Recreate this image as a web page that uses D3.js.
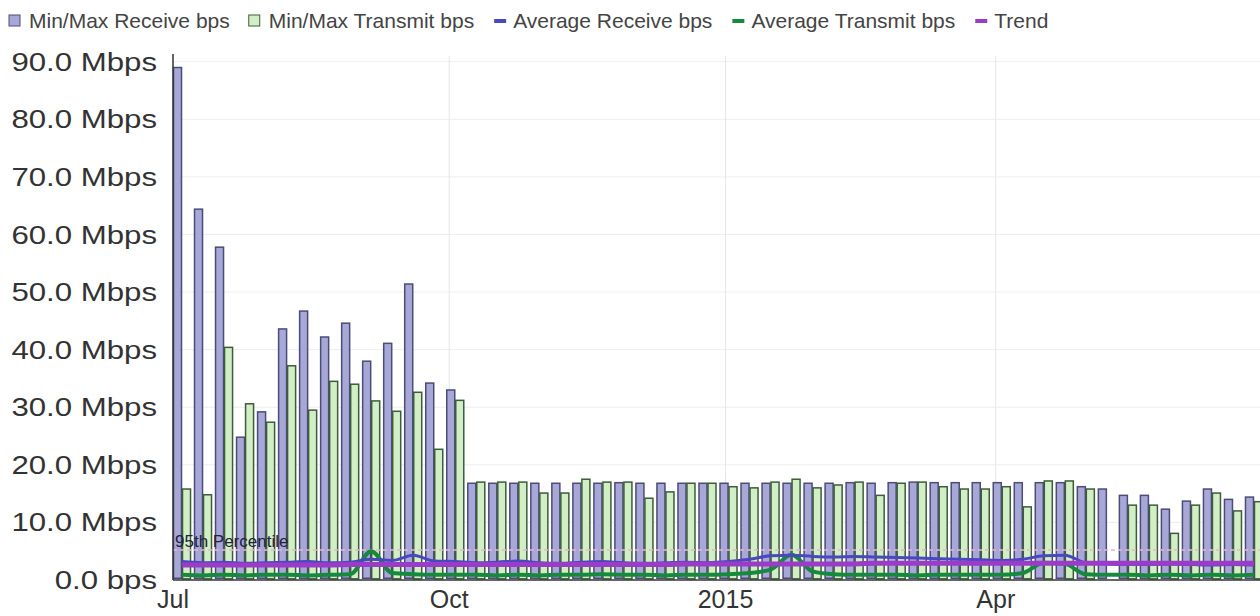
<!DOCTYPE html>
<html>
<head>
<meta charset="utf-8">
<script src="https://cdn.jsdelivr.net/npm/d3@7"></script>
<style>
  body { margin: 0; background: #fff; }
  svg text { font-family: "Liberation Sans", Arial, sans-serif; }
</style>
</head>
<body>
<div id="chart"></div>
<script>
// Chart size
const w = 1260;
const h = 616;

// Weekly samples, first week starts Jul 1 2014
const startDate = new Date(2014, 6, 1);

// Max receive per week (Mbps)
const maxRx = [89.0, 64.4, 57.8, 24.8, 29.2, 43.6, 46.7, 42.2, 44.6, 38.0, 41.1, 51.4, 34.2, 33.0,
  16.8, 16.8, 16.8, 16.8, 16.8, 16.8, 16.8, 16.9, 16.8, 16.8, 16.8, 16.8, 16.8, 16.8, 16.8, 16.8,
  16.8, 16.8, 16.9, 16.8, 16.9, 17.0, 16.9, 16.9, 16.9, 16.9, 16.9, 16.9, 16.9, 16.2, 15.8, 14.7,
  14.7, 12.3, 13.7, 15.8, 14.0, 14.4];

// Max transmit per week (Mbps), null = no bar
const maxTx = [15.8, 14.8, 40.4, 30.6, 27.4, 37.2, 29.5, 34.5, 34.0, 31.1, 29.3, 32.6, 22.7, 31.2,
  17.0, 17.0, 17.0, 15.1, 15.1, 17.5, 17.0, 17.0, 14.2, 15.3, 16.8, 16.8, 16.2, 16.0, 17.0, 17.5,
  16.0, 16.5, 17.0, 14.7, 16.8, 17.0, 16.2, 15.8, 15.8, 16.2, 12.7, 17.2, 17.2, 15.8, null, 13.0,
  13.0, 8.1, 13.0, 15.1, 12.0, 13.6];

// Min values per week (Mbps)
const minRx = [0.3, 0.3, 0.3, 0.3, 0.3, 0.3, 0.3, 0.3, 0.3, 0.3, 0.3, 0.3, 0.3, 0.3, 0.3, 0.3, 0.3,
  0.3, 0.3, 0.3, 0.3, 0.3, 0.3, 0.3, 0.3, 0.3, 0.3, 0.3, 0.3, 0.3, 0.3, 0.3, 0.3, 0.3, 0.3, 0.3,
  0.3, 0.3, 0.3, 0.3, 0.3, 0.3, 0.3, 0.3, 0.3, 0.3, 0.3, 0.3, 0.3, 0.3, 0.3, 0.3];
const minTx = [0.2, 0.2, 0.2, 0.2, 0.2, 0.2, 0.2, 0.2, 0.2, 0.2, 0.2, 0.2, 0.2, 0.2, 0.2, 0.2, 0.2,
  0.2, 0.2, 0.2, 0.2, 0.2, 0.2, 0.2, 0.2, 0.2, 0.2, 0.2, 0.2, 0.2, 0.2, 0.2, 0.2, 0.2, 0.2, 0.2,
  0.2, 0.2, 0.2, 0.2, 0.2, 0.2, 0.2, 0.2, 0.2, 0.2, 0.2, 0.2, 0.2, 0.2, 0.2, 0.2];

// Averages (Mbps)
const avgRx = [3.2, 3.0, 3.1, 2.9, 3.0, 3.1, 3.2, 3.0, 3.1, 3.6, 3.4, 4.3, 3.3, 3.2, 3.0, 3.1, 3.3,
  3.0, 2.9, 3.1, 3.2, 3.0, 2.9, 3.0, 3.1, 3.0, 3.2, 3.6, 4.2, 4.3, 4.1, 4.0, 4.1, 4.0, 3.9, 3.8,
  3.7, 3.6, 3.5, 3.4, 3.6, 4.2, 4.3, 3.0, 2.8, 2.7, 2.7, 2.8, 2.7, 2.6, 2.7, 2.6];
const avgTx = [0.9, 0.8, 0.9, 0.8, 0.9, 0.9, 0.8, 0.9, 1.0, 5.0, 1.2, 1.0, 0.9, 0.9, 0.9, 0.8, 0.9,
  0.8, 0.9, 0.9, 1.0, 0.9, 0.9, 0.8, 0.9, 0.9, 1.0, 1.2, 1.8, 4.4, 1.5, 1.0, 0.9, 0.9, 0.9, 0.8,
  0.9, 0.9, 0.9, 0.9, 1.2, 3.0, 2.8, 1.0, 0.9, 0.9, 0.8, 0.9, 0.8, 0.9, 0.8, 0.9];
const trend = [2.6, 2.6, 2.6, 2.6, 2.6, 2.6, 2.6, 2.6, 2.7, 2.7, 2.7, 2.7, 2.7, 2.7, 2.7, 2.7, 2.7,
  2.7, 2.7, 2.7, 2.7, 2.7, 2.7, 2.7, 2.8, 2.8, 2.8, 2.8, 2.8, 2.8, 2.8, 2.8, 2.8, 2.9, 2.9, 2.9,
  2.9, 2.9, 2.9, 2.9, 2.9, 2.9, 2.9, 2.9, 2.9, 2.9, 2.9, 2.9, 2.9, 2.9, 2.9, 2.9];

// 95th percentile (Mbps)
const p95 = 5.2;

// Y ticks (Mbps) and labels
const yTicks = [0, 10, 20, 30, 40, 50, 60, 70, 80, 90];
const yLabels = ["0.0 bps", "10.0 Mbps", "20.0 Mbps", "30.0 Mbps", "40.0 Mbps", "50.0 Mbps",
  "60.0 Mbps", "70.0 Mbps", "80.0 Mbps", "90.0 Mbps"];

// X ticks
const xTicks = [new Date(2014, 6, 1), new Date(2014, 9, 1), new Date(2015, 0, 1), new Date(2015, 3, 1)];
const xLabels = ["Jul", "Oct", "2015", "Apr"];

// Legend
const legendNames = ["Min/Max Receive bps", "Min/Max Transmit bps", "Average Receive bps",
  "Average Transmit bps", "Trend"];
const legendColors = ["#a7a7d8", "#d2eec4", "#4a48c0", "#168a3c", "#9a3cc8"];

const weeks = maxRx.map((d, i) => d3.timeDay.offset(startDate, i * 7));

const plotL = 173, plotR = 1260, plotT = 56, plotB = 580;

const svg = d3.select("#chart").append("svg")
  .attr("width", w)
  .attr("height", h);

const x = d3.scaleTime()
  .domain([startDate, new Date(2015, 5, 28)])
  .range([plotL, plotR]);

const y = d3.scaleLinear()
  .domain([0, 91])
  .range([plotB, plotT]);

// Grid lines
svg.append("g")
  .selectAll("line.hgrid")
  .data(yTicks.slice(1))
  .enter().append("line")
  .attr("x1", plotL).attr("x2", plotR)
  .attr("y1", d => y(d)).attr("y2", d => y(d))
  .attr("stroke", "#eeeeee");

svg.append("g")
  .selectAll("line.vgrid")
  .data(xTicks.slice(1))
  .enter().append("line")
  .attr("x1", d => x(d)).attr("x2", d => x(d))
  .attr("y1", plotT).attr("y2", plotB)
  .attr("stroke", "#e6e6e6");

// Bars
const dayW = x(d3.timeDay.offset(startDate, 3)) - x(startDate);

svg.append("g")
  .selectAll("rect.rx")
  .data(weeks)
  .enter().append("rect")
  .attr("x", d => x(d) + 0.5)
  .attr("y", (d, i) => y(maxRx[i]))
  .attr("width", dayW - 1)
  .attr("height", (d, i) => y(minRx[i]) - y(maxRx[i]))
  .attr("fill", "#a7a7d8")
  .attr("stroke", "#4c4c78")
  .attr("stroke-width", 1.5);

svg.append("g")
  .selectAll("rect.tx")
  .data(weeks.filter((d, i) => maxTx[i] != null))
  .enter().append("rect")
  .attr("x", d => x(d3.timeDay.offset(d, 3)) + 0.5)
  .attr("y", d => y(maxTx[weeks.indexOf(d)]))
  .attr("width", dayW - 1)
  .attr("height", d => y(minTx[weeks.indexOf(d)]) - y(maxTx[weeks.indexOf(d)]))
  .attr("fill", "#d2eec4")
  .attr("stroke", "#3c5c3c")
  .attr("stroke-width", 1.5);

// 95th percentile
svg.append("line")
  .attr("x1", plotL).attr("x2", plotR)
  .attr("y1", y(p95)).attr("y2", y(p95))
  .attr("stroke", "#e2b6d2")
  .attr("stroke-width", 1.5)
  .attr("stroke-dasharray", "4,3");

svg.append("text")
  .attr("x", plotL + 2)
  .attr("y", y(p95) - 3)
  .attr("font-size", "17px")
  .attr("fill", "#22223a")
  .text("95th Percentile");

// Lines
const line = arr => d3.line()
  .x(d => x(d3.timeDay.offset(d, 3)))
  .y((d, i) => y(arr[i]))
  .curve(d3.curveMonotoneX);

svg.append("path")
  .datum(weeks)
  .attr("d", line(avgTx))
  .attr("fill", "none")
  .attr("stroke", "#168a3c")
  .attr("stroke-width", 4);

svg.append("path")
  .datum(weeks)
  .attr("d", line(avgRx))
  .attr("fill", "none")
  .attr("stroke", "#4a48c0")
  .attr("stroke-width", 3);

svg.append("path")
  .datum(weeks)
  .attr("d", line(trend))
  .attr("fill", "none")
  .attr("stroke", "#9a3cc8")
  .attr("stroke-width", 5);

// Axes
svg.append("line")
  .attr("x1", plotL).attr("x2", plotL)
  .attr("y1", plotT - 2).attr("y2", plotB)
  .attr("stroke", "#333").attr("stroke-width", 1.5);
svg.append("line")
  .attr("x1", plotL).attr("x2", plotR)
  .attr("y1", plotB).attr("y2", plotB)
  .attr("stroke", "#333").attr("stroke-width", 1.5);

// Y labels, drawn a little wider like the reference
svg.append("g")
  .selectAll("text.ylab")
  .data(yTicks)
  .enter().append("text")
  .attr("transform", d => `translate(157,${y(d) + 9}) scale(1.2,1)`)
  .attr("text-anchor", "end")
  .attr("font-size", "26px")
  .attr("fill", "#333")
  .text((d, i) => yLabels[i]);

svg.append("g")
  .selectAll("text.xlab")
  .data(xTicks)
  .enter().append("text")
  .attr("x", d => x(d))
  .attr("y", 608)
  .attr("text-anchor", "middle")
  .attr("font-size", "25px")
  .attr("fill", "#333")
  .text((d, i) => xLabels[i]);

// Legend, laid out left to right
const legend = svg.append("g");
let lx = 9;
legendNames.forEach((name, i) => {
  if (i < 2) {
    legend.append("rect")
      .attr("x", lx).attr("y", 15)
      .attr("width", 11).attr("height", 11)
      .attr("fill", legendColors[i])
      .attr("stroke", i === 0 ? "#4c4c78" : "#3c5c3c");
  } else {
    legend.append("line")
      .attr("x1", lx + 1).attr("x2", lx + 13)
      .attr("y1", 21).attr("y2", 21)
      .attr("stroke", legendColors[i])
      .attr("stroke-width", 4);
  }
  const t = legend.append("text")
    .attr("x", lx + 20)
    .attr("y", 28)
    .attr("font-size", "21px")
    .attr("fill", "#444")
    .text(name);
  lx += 20 + t.node().getComputedTextLength() + 19;
});
</script>
</body>
</html>
